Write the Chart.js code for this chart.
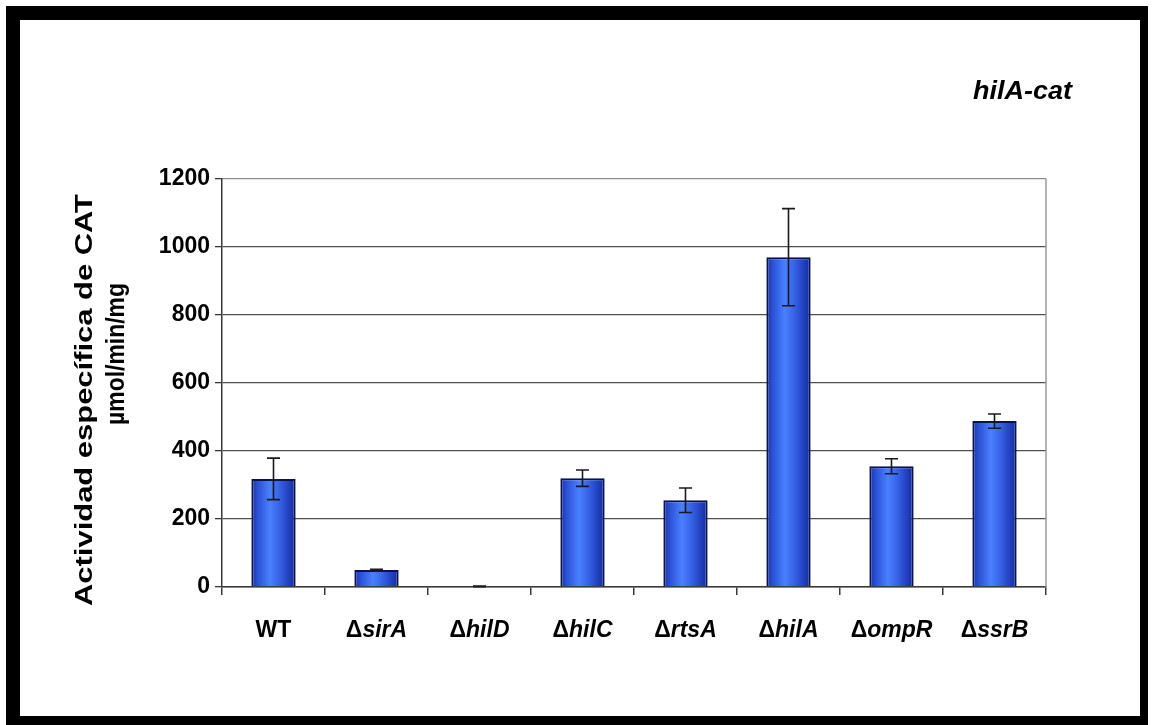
<!DOCTYPE html>
<html>
<head>
<meta charset="utf-8">
<script src="https://cdn.jsdelivr.net/npm/chart.js@4"></script>
<style>
  html, body { margin: 0; padding: 0; background: #ffffff; }
  #wrap { position: relative; width: 1152px; height: 725px; overflow: hidden; }
  #chart { position: absolute; left: 0; top: 0; }
  #frame {
    position: absolute; left: 6px; top: 6px; width: 1142px; height: 719px;
    box-sizing: border-box; border-style: solid; border-color: #000;
    border-width: 14px 8px 9px 14px; pointer-events: none;
  }
</style>
</head>
<body>
<div id="wrap">
  <canvas id="chart" width="1152" height="725"></canvas>
  <div id="frame"></div>
</div>
<script>
// Strains and measured CAT specific activity (µmol/min/mg)
const categories = ['WT', 'ΔsirA', 'ΔhilD', 'ΔhilC', 'ΔrtsA', 'ΔhilA', 'ΔompR', 'ΔssrB'];
const activity   = [318, 50, 2, 320, 255, 970, 355, 488];
const errors     = [61, 2, 1, 24, 36, 143, 22, 21];
const yTicks     = [0, 200, 400, 600, 800, 1000, 1200];
const chartTitle = 'hilA-cat';
const yTitle     = ['Actividad específica de CAT', 'µmol/min/mg'];

const FONT = "'Liberation Sans', Arial, Helvetica, sans-serif";
const BAR_PCT = 0.43;

// Horizontal shading across each bar, computed from the category scale
function barGradient(ctx) {
  const chart = ctx.chart;
  const xs = chart.scales.x;
  if (!xs || ctx.dataIndex === undefined) return '#2f55d8';
  const cx = xs.getPixelForValue(ctx.dataIndex);
  const half = (xs.width / categories.length) * BAR_PCT / 2;
  if (!Number.isFinite(cx) || !Number.isFinite(half) || half <= 0) return '#2f55d8';
  const g = chart.ctx.createLinearGradient(cx - half, 0, cx + half, 0);
  g.addColorStop(0.0, '#1a32a8');
  g.addColorStop(0.15, '#2b52d6');
  g.addColorStop(0.42, '#4a80ff');
  g.addColorStop(0.62, '#3764e8');
  g.addColorStop(0.88, '#1f3bb8');
  g.addColorStop(1.0, '#162b98');
  return g;
}

// Error bars, caps, x labels, axis title and chart title
const decorations = {
  id: 'decorations',
  afterDatasetsDraw(chart) {
    const { ctx, scales: { y } } = chart;
    const meta = chart.getDatasetMeta(0);
    ctx.save();
    ctx.strokeStyle = '#1a1a1a';
    ctx.lineWidth = 1.6;
    meta.data.forEach((bar, i) => {
      const x = bar.x;
      const yTop = y.getPixelForValue(activity[i] + errors[i]);
      const yBot = y.getPixelForValue(activity[i] - errors[i]);
      ctx.beginPath();
      ctx.moveTo(x, yTop); ctx.lineTo(x, yBot);
      ctx.moveTo(x - 6.5, yTop); ctx.lineTo(x + 6.5, yTop);
      ctx.moveTo(x - 6.5, yBot); ctx.lineTo(x + 6.5, yBot);
      ctx.stroke();
    });
    ctx.restore();
  },
  afterDraw(chart) {
    const { ctx, chartArea, scales: { x } } = chart;
    ctx.save();
    // right border of the plot area
    ctx.strokeStyle = '#9a9a9a';
    ctx.lineWidth = 1.5;
    ctx.beginPath();
    ctx.moveTo(chartArea.right, chartArea.top);
    ctx.lineTo(chartArea.right, chartArea.bottom);
    ctx.stroke();

    // category labels: upright delta, italic gene name
    ctx.fillStyle = '#000';
    ctx.textBaseline = 'alphabetic';
    ctx.textAlign = 'left';
    categories.forEach((lab, i) => {
      const cx = x.getPixelForValue(i);
      let pre = '', name = lab, nameFont = `bold 23px ${FONT}`;
      if (lab.startsWith('Δ')) {
        pre = 'Δ';
        name = lab.slice(1);
        nameFont = `italic bold 23px ${FONT}`;
      }
      ctx.font = `bold 23px ${FONT}`;
      const wPre = pre ? ctx.measureText(pre).width : 0;
      ctx.font = nameFont;
      const wName = ctx.measureText(name).width;
      const left = cx - (wPre + wName) / 2;
      if (pre) {
        ctx.font = `bold 23px ${FONT}`;
        ctx.fillText(pre, left, 637);
      }
      ctx.font = nameFont;
      ctx.fillText(name, left + wPre, 637);
    });

    // rotated y-axis title, two lines
    const drawRotated = (text, bx, cy, len, size) => {
      ctx.save();
      ctx.translate(bx, cy);
      ctx.rotate(-Math.PI / 2);
      ctx.font = `bold ${size}px ${FONT}`;
      const w = ctx.measureText(text).width;
      ctx.scale(len / w, 1);
      ctx.textAlign = 'center';
      ctx.textBaseline = 'alphabetic';
      ctx.fillText(text, 0, 0);
      ctx.restore();
    };
    drawRotated(yTitle[0], 92, 400, 412, 24);
    drawRotated(yTitle[1], 124, 354, 142, 25);

    // chart title
    ctx.font = `italic bold 25px ${FONT}`;
    ctx.textAlign = 'left';
    ctx.textBaseline = 'alphabetic';
    const tw = ctx.measureText(chartTitle).width;
    ctx.save();
    ctx.translate(973, 99);
    ctx.scale(99 / tw, 1);
    ctx.fillText(chartTitle, 0, 0);
    ctx.restore();
    ctx.restore();
  }
};

new Chart(document.getElementById('chart'), {
  type: 'bar',
  data: {
    labels: categories,
    datasets: [{
      data: activity,
      backgroundColor: barGradient,
      borderColor: '#0a1250',
      borderWidth: 2,
      borderSkipped: 'bottom',
      barPercentage: BAR_PCT,
      categoryPercentage: 1.0
    }]
  },
  options: {
    responsive: false,
    animation: false,
    events: [],
    layout: { padding: { left: 0, top: 179, right: 106, bottom: 0 } },
    plugins: {
      legend: { display: false },
      title: { display: false },
      tooltip: { enabled: false }
    },
    scales: {
      x: {
        offset: true,
        grid: {
          offset: true,
          drawOnChartArea: false,
          drawTicks: true,
          tickLength: 8,
          color: '#3a3a3a',
          lineWidth: 1.5
        },
        border: { display: true, color: '#3a3a3a', width: 1.5 },
        ticks: { display: false },
        afterFit(s) { s.height = 138; }
      },
      y: {
        min: 0,
        max: 1200,
        afterBuildTicks(s) { s.ticks = yTicks.map(v => ({ value: v })); },
        ticks: {
          color: '#000',
          padding: 5,
          font: { family: FONT, size: 23, weight: 'bold' },
          callback: (v) => String(v)
        },
        grid: {
          color: (c) => (c.tick && c.tick.value === 1200) ? '#8c8c8c' : '#505050',
          lineWidth: 1.3,
          tickLength: 7,
          tickColor: '#3a3a3a'
        },
        border: { display: true, color: '#3a3a3a', width: 1.5 },
        afterFit(s) { s.width = 222; }
      }
    }
  },
  plugins: [decorations]
});
</script>
</body>
</html>
